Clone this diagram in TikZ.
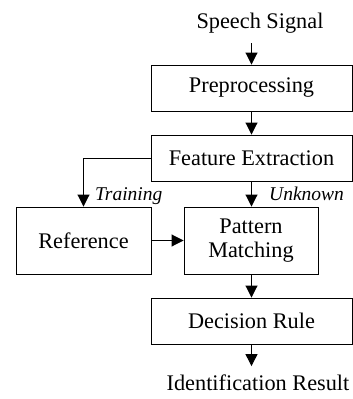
\documentclass[tikz,border=0pt]{standalone}
\usepackage{fontspec}
\setmainfont{Liberation Serif}
\usetikzlibrary{arrows.meta}
\tikzset{
  blockbox/.style={draw, line width=0.9pt, rectangle, inner sep=0pt, align=center,
    font=\fontsize{22.3}{24}\selectfont},
  plaintext/.style={inner sep=0pt, font=\fontsize{22.3}{24}\selectfont},
  lbl/.style={inner sep=0pt, font=\fontsize{19.5}{22}\selectfont\itshape},
  flow/.style={line width=0.9pt, -{Triangle[length=12pt,width=12pt]}}
}
\begin{document}
\begin{tikzpicture}[x=1pt,y=-1pt]
\useasboundingbox (0,0) rectangle (353,399);
\node[plaintext, anchor=base] (speech) at (260,28.3) {Speech Signal};
\node[blockbox, minimum width=201pt, minimum height=46pt] (pre) at (251.5,88) {Preprocessing};
\node[blockbox, minimum width=201pt, minimum height=46pt] (fe) at (251.5,158) {Feature Extraction};
\node[blockbox, minimum width=135pt, minimum height=67pt] (ref) at (83.5,240.5) {Reference};
\node[blockbox, minimum width=134pt, minimum height=67pt] (pm) at (251,240.5) {Pattern\\Matching};
\node[blockbox, minimum width=201pt, minimum height=46pt] (dr) at (251.5,321) {Decision Rule};
\node[plaintext, anchor=base] (ident) at (258,390) {Identification Result};
\node[lbl, anchor=base west] (train) at (95,200) {Training};
\node[lbl, anchor=base west] (unk) at (269,200) {Unknown};

\draw[flow, shorten <=10pt] (speech.south -| pre.north) -- (pre.north);
\draw[flow] (pre) -- (fe);
\draw[flow] (fe.west) -| (ref.north);
\draw[flow] (fe.south) -- (fe.south |- pm.north);
\draw[flow] (ref) -- (pm);
\draw[flow] (pm.south -| dr.north) -- (dr.north);
\draw[flow, shorten >=8pt] (dr.south) -- (dr.south |- ident.north);
\end{tikzpicture}
\end{document}
